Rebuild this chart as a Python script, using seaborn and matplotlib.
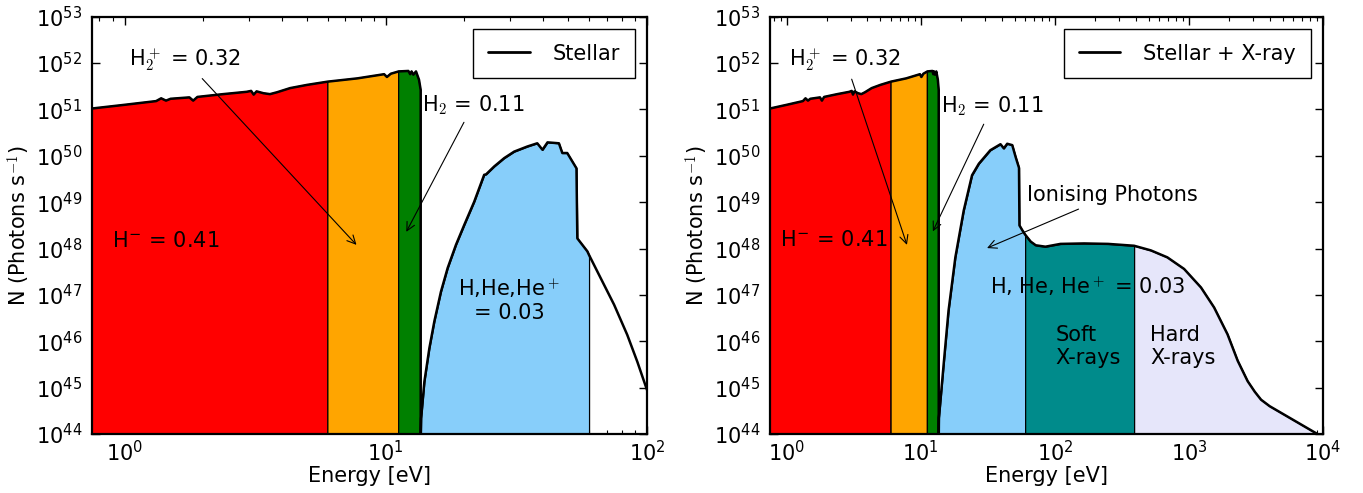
import numpy as np
import matplotlib
matplotlib.use("Agg")
import matplotlib.pyplot as plt
import seaborn as sns

# Espectro estelar hasta 13.6 eV (energia en eV, log10 del numero de fotones)
e_estelar = [0.75, 1.0, 1.32, 1.38, 1.44, 1.50, 1.77, 1.83, 1.90, 2.38, 2.93, 3.05,
             3.12, 3.20, 3.40, 3.60, 3.83, 4.30, 5.0, 6.0, 7.78, 9.85, 10.1, 10.45,
             11.2, 12.2, 12.4, 12.55, 12.75, 13.05, 13.4, 13.6]
logn_estelar = [51.02, 51.10, 51.18, 51.24, 51.19, 51.23, 51.26, 51.19, 51.27, 51.33,
                51.38, 51.40, 51.32, 51.39, 51.35, 51.33, 51.37, 51.46, 51.53, 51.60,
                51.67, 51.76, 51.70, 51.77, 51.82, 51.83, 51.76, 51.82, 51.75, 51.82,
                51.64, 51.42]

# Parte ionizante, solo estrella
e_ion = [13.6, 13.65, 14.05, 14.68, 15.34, 16.26, 17.25, 18.56, 19.97, 21.8, 23.8,
         24.2, 26.0, 28.4, 31.0, 34.8, 38.0, 39.8, 41.6, 46.0, 47.4, 49.5, 53.7, 54.1,
         59.1, 60.0, 66.5, 74.8, 84.0, 91.8, 100.0]
logn_ion = [43.8, 44.34, 45.13, 45.85, 46.43, 47.07, 47.58, 48.08, 48.51, 49.01, 49.59,
            49.60, 49.77, 49.95, 50.09, 50.20, 50.27, 50.13, 50.29, 50.27, 50.06, 50.06,
            49.73, 48.22, 47.94, 47.86, 47.36, 46.79, 46.14, 45.56, 44.95]

# Parte ionizante, estrella + rayos X
e_xray = [13.6, 13.65, 14.8, 16.1, 18.1, 20.9, 24.1, 27.1, 33.0, 39.3, 41.6, 44.1,
          48.1, 50.9, 54.0, 54.4, 57.0, 60.0, 66.0, 72.0, 85.0, 110, 165, 250, 390,
          520, 690, 920, 1230, 1540, 1940, 2310, 2740, 3100, 3450, 4000, 10000]
logn_xray = [43.8, 44.35, 45.50, 46.66, 47.81, 48.82, 49.58, 49.83, 50.12, 50.25, 50.16,
             50.26, 50.23, 49.98, 49.74, 48.50, 48.40, 48.30, 48.15, 48.07, 48.04, 48.10,
             48.11, 48.10, 48.06, 47.96, 47.81, 47.56, 47.16, 46.73, 46.15, 45.58, 45.14,
             44.91, 44.74, 44.60, 43.93]

# Bandas de energia
cortes = [6.0, 11.2, 13.6, 60.0, 390.0]

sns.set_style("ticks")
plt.rcParams["font.family"] = ["DejaVu Sans"]
plt.rcParams["mathtext.fontset"] = "cm"
plt.rcParams["font.size"] = 15
for k in ["text.color", "axes.labelcolor", "xtick.color", "ytick.color"]:
    plt.rcParams[k] = "black"

fig = plt.figure(figsize=(13.63, 4.93), dpi=100)
W, H = 1363.0, 493.0
ax1 = fig.add_axes([92 / W, 1 - 434 / H, (647 - 92) / W, (434 - 16.7) / H])
ax2 = fig.add_axes([770 / W, 1 - 434 / H, (1323 - 770) / W, (434 - 16.7) / H])


def rellenar(ax, e, logn, lo, hi, color):
    e = np.asarray(e, dtype=float)
    n = 10.0 ** np.asarray(logn)
    m = (e >= lo) & (e <= hi)
    ax.fill_between(e[m], 1e40, n[m], facecolor=color, edgecolor="black",
                    linewidth=0.9, zorder=1)


def preparar(ax, xmax):
    ax.set_xscale("log")
    ax.set_yscale("log")
    ax.set_xlim(0.75, xmax)
    ax.set_ylim(1e44, 1e53)
    ax.set_yticks([10.0 ** k for k in range(44, 54)])
    ax.tick_params(which="both", direction="in", top=True, right=True, labelsize=15)
    ax.tick_params(which="major", length=6, width=1)
    ax.tick_params(which="minor", length=3, width=0.8)
    ax.tick_params(axis="x", which="major", pad=4)
    ax.tick_params(axis="y", which="major", pad=7)
    for s in ax.spines.values():
        s.set_linewidth(1.6)
        s.set_color("black")
    ax.set_xlabel("Energy [eV]", fontsize=15, labelpad=1)
    ax.set_ylabel("N (Photons s$^{-1}$)", fontsize=15, labelpad=2)


def leyenda(ax, texto):
    ax.legend(handles=[plt.Line2D([], [], color="black", lw=2)], labels=[texto],
              loc="upper right", fancybox=False, edgecolor="black", framealpha=1,
              fontsize=15, handlelength=2.0, handletextpad=1.1, borderpad=0.7,
              borderaxespad=0.6)


flecha = dict(arrowstyle="->", color="black", lw=0.8, shrinkA=2, shrinkB=0)
hmenos = r"H$^{\mathregular{-}}$ = 0.41"

# Panel izquierdo: solo estrella
preparar(ax1, 100)
rellenar(ax1, e_estelar, logn_estelar, 0, cortes[0], "red")
rellenar(ax1, e_estelar, logn_estelar, cortes[0], cortes[1], "orange")
rellenar(ax1, e_estelar, logn_estelar, cortes[1], cortes[2], "green")
rellenar(ax1, e_ion, logn_ion, cortes[2], cortes[3], "lightskyblue")
sns.lineplot(x=e_estelar + e_ion, y=10.0 ** np.array(logn_estelar + logn_ion), ax=ax1,
             color="black", linewidth=1.8, estimator=None, sort=False, zorder=3)
leyenda(ax1, "Stellar")
ax1.annotate("H$_2^+$ = 0.32", xy=(7.72, 1.2e48), xytext=(1.70, 10 ** 52.07),
             ha="center", va="center", arrowprops=flecha, fontsize=15)
ax1.annotate("H$_2$ = 0.11", xy=(11.98, 10 ** 48.36), xytext=(21.6, 10 ** 51.10),
             ha="center", va="center", arrowprops=flecha, fontsize=15)
ax1.text(1.44, 10 ** 48.17, hmenos, ha="center", va="center", fontsize=15)
ax1.text(29.7, 10 ** 46.89, "H,He,He$^+$\n= 0.03", ha="center", va="center",
         multialignment="center", fontsize=15)

# Panel derecho: estrella + rayos X
preparar(ax2, 1e4)
rellenar(ax2, e_estelar, logn_estelar, 0, cortes[0], "red")
rellenar(ax2, e_estelar, logn_estelar, cortes[0], cortes[1], "orange")
rellenar(ax2, e_estelar, logn_estelar, cortes[1], cortes[2], "green")
rellenar(ax2, e_xray, logn_xray, cortes[2], cortes[3], "lightskyblue")
rellenar(ax2, e_xray, logn_xray, cortes[3], cortes[4], "darkcyan")
rellenar(ax2, e_xray, logn_xray, cortes[4], 1e5, "lavender")
sns.lineplot(x=e_estelar + e_xray, y=10.0 ** np.array(logn_estelar + logn_xray), ax=ax2,
             color="black", linewidth=1.8, estimator=None, sort=False, zorder=3)
leyenda(ax2, "Stellar + X-ray")
ax2.annotate("H$_2^+$ = 0.32", xy=(7.88, 1.2e48), xytext=(2.73, 10 ** 52.07),
             ha="center", va="center", arrowprops=flecha, fontsize=15)
ax2.annotate("H$_2$ = 0.11", xy=(12.3, 10 ** 48.37), xytext=(34.0, 10 ** 51.06),
             ha="center", va="center", arrowprops=flecha, fontsize=15)
ax2.annotate("Ionising Photons", xy=(31.2, 10 ** 48.01), xytext=(268, 10 ** 49.16),
             ha="center", va="center", arrowprops=flecha, fontsize=15)
ax2.text(2.23, 10 ** 48.19, hmenos, ha="center", va="center", fontsize=15)
ax2.text(177, 10 ** 47.18, "H, He, He$^+$ = 0.03", ha="center", va="center", fontsize=15)
ax2.text(101, 10 ** 45.89, "Soft\nX-rays", ha="left", va="center", fontsize=15)
ax2.text(513, 10 ** 45.89, "Hard\nX-rays", ha="left", va="center", fontsize=15)

fig.savefig("out.png", dpi=100)
